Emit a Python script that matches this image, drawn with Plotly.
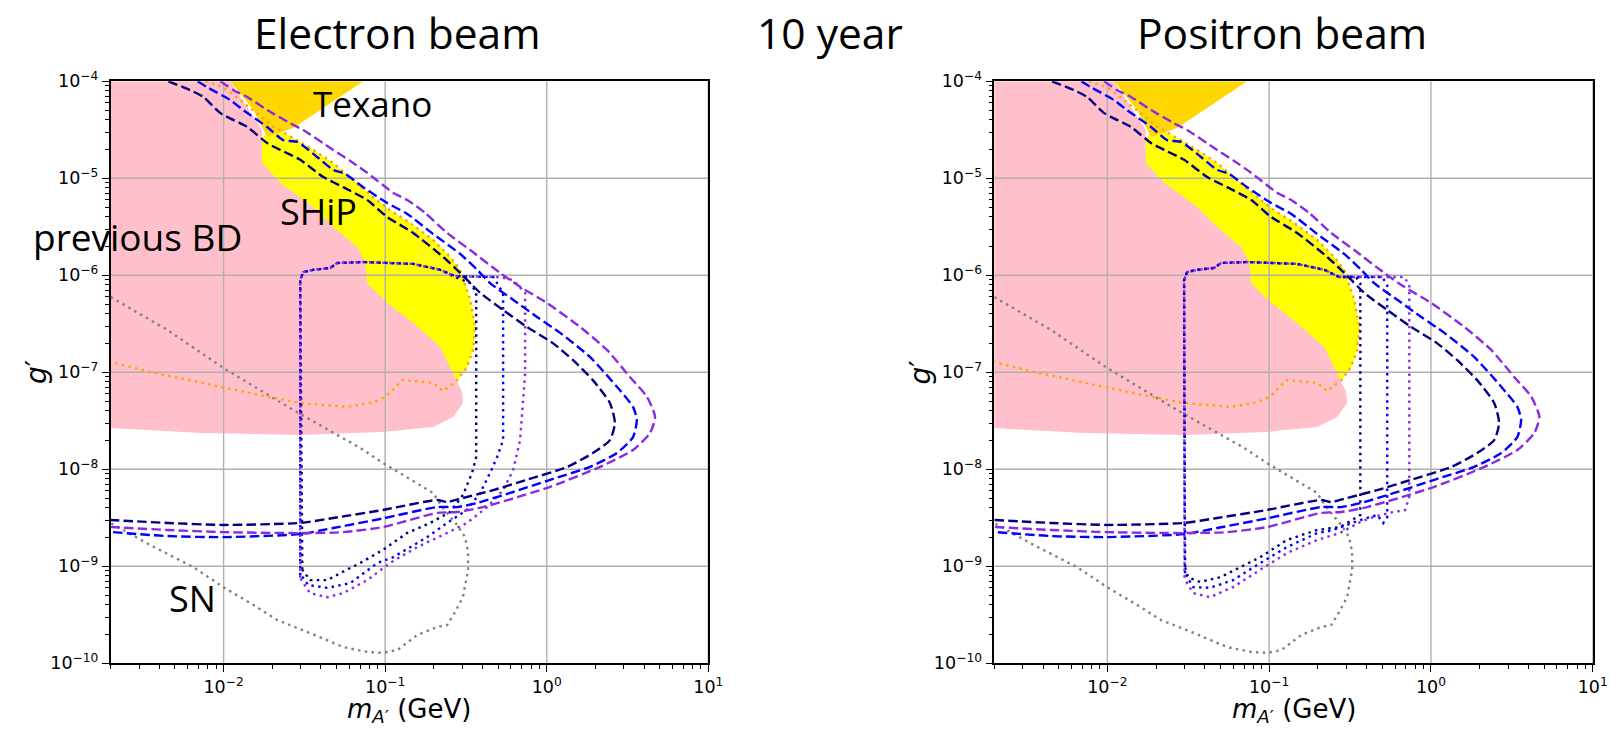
import math
import plotly.graph_objects as go

# ---------------- data: dark photon mass m_A' (GeV) vs coupling g' ----------------
# previous beam-dump exclusion (pink)
bd_m = [1.9e-3, 1.1e-2, 1.73e-2, 1.73e-2, 2.25e-2, 3.59e-2, 4.77e-2, 6.72e-2, 7.52e-2, 7.74e-2,
        0.103, 0.149, 0.219, 0.264, 0.299, 0.303, 0.264, 0.198, 0.097, 2.98e-2, 7.2e-3, 1.9e-3]
bd_g = [1.0e-4, 1.0e-4, 3.15e-5, 1.44e-5, 8.95e-6, 5.06e-6, 3.15e-6, 1.96e-6, 1.37e-6, 8.3e-7,
        5.2e-7, 3.23e-7, 1.82e-7, 9.8e-8, 6.3e-8, 4.83e-8, 3.46e-8, 2.73e-8, 2.43e-8, 2.26e-8, 2.37e-8, 2.67e-8]

# Texono (gold)
tex_m = [1.1e-2, 7.31e-2, 2.70e-2, 1.86e-2, 1.53e-2]
tex_g = [1.0e-4, 1.0e-4, 3.3e-5, 2.67e-5, 5.06e-5]

# SHiP projected reach (yellow area)
ship_m = [1.73e-2, 2.03e-2, 2.70e-2, 3.59e-2, 4.77e-2, 6.34e-2, 8.43e-2, 0.107, 0.143, 0.198, 0.252,
          0.291, 0.336, 0.361, 0.350, 0.321, 0.279, 0.219, 7.0e-2, 2.25e-2, 1.57e-2, 1.6e-2]
ship_g = [2.6e-5, 3.4e-5, 2.6e-5, 1.96e-5, 1.44e-5, 9.6e-6, 6.4e-6, 4.7e-6, 3.46e-6, 2.31e-6, 1.55e-6,
          1.14e-6, 5.6e-7, 2.94e-7, 1.70e-7, 1.13e-7, 8.3e-8, 1.34e-7, 8.9e-7, 5.97e-6, 1.37e-5, 2.6e-5]

# SHiP contour (orange dotted)
shipl_m = [7.7e-3, 9.95e-3, 1.27e-2, 1.61e-2, 2.03e-2, 2.70e-2, 3.59e-2, 4.77e-2, 6.34e-2, 8.43e-2,
           0.107, 0.143, 0.198, 0.252, 0.291, 0.336, 0.361, 0.350, 0.321, 0.279, 0.228, 0.198, 0.127,
           0.107, 9.7e-2, 8.43e-2, 5.82e-2, 2.98e-2, 1.86e-2, 9.5e-3, 3.5e-3, 2.0e-3]
shipl_g = [1.0e-4, 8.7e-5, 6.4e-5, 4.7e-5, 3.4e-5, 2.6e-5, 1.96e-5, 1.44e-5, 9.6e-6, 6.4e-6,
           4.7e-6, 3.46e-6, 2.31e-6, 1.55e-6, 1.14e-6, 5.6e-7, 2.94e-7, 1.70e-7, 1.13e-7, 8.3e-8, 6.4e-8,
           7.8e-8, 8.3e-8, 6.1e-8, 5.45e-8, 4.9e-8, 4.4e-8, 4.83e-8, 5.6e-8, 7.1e-8, 1.01e-7, 1.28e-7]

# supernova bound (grey dotted)
sn_m = [2.0e-3, 4.49e-3, 9.95e-3, 2.70e-2, 7.0e-2, 9.7e-2, 0.198, 0.228, 0.279, 0.312, 0.326, 0.326,
        0.303, 0.271, 0.242, 0.210, 0.158, 0.119, 9.7e-2, 7.74e-2, 5.5e-2, 3.43e-2, 2.15e-2, 1.53e-2,
        9.95e-3, 6.5e-3, 3.5e-3, 2.0e-3]
sn_g = [5.97e-7, 2.73e-7, 1.11e-7, 4.08e-8, 1.66e-8, 1.16e-8, 5.7e-9, 3.99e-9, 2.66e-9, 2.0e-9, 1.40e-9,
        9.2e-10, 4.8e-10, 3.38e-10, 2.48e-10, 2.37e-10, 1.96e-10, 1.37e-10, 1.28e-10, 1.31e-10, 1.47e-10,
        2.05e-10, 2.79e-10, 3.99e-10, 6.1e-10, 9.8e-10, 1.66e-9, 2.79e-9]

# dashed sensitivity contours (same for both beams)
dash_navy_m = [4.55e-3, 6.22e-3, 7.5e-3, 9.55e-3, 1.40e-2, 1.86e-2, 2.25e-2, 2.98e-2, 4.14e-2, 5.5e-2,
               7.74e-2, 0.103, 0.149, 0.228, 0.291, 0.387, 0.537, 0.755, 1.09, 1.45, 1.93, 2.46, 2.64,
               2.46, 1.93, 1.34, 0.755, 0.466, 0.303, 0.242, 0.210, 9.7e-2, 4.77e-2, 2.98e-2, 9.95e-3,
               4.49e-3, 2.0e-3]
dash_navy_g = [1.0e-4, 8.1e-5, 6.9e-5, 4.7e-5, 3.38e-5, 2.31e-5, 1.96e-5, 1.55e-5, 1.03e-5, 8.1e-6,
               5.97e-6, 3.99e-6, 2.73e-6, 1.55e-6, 1.06e-6, 6.6e-7, 4.39e-7, 2.93e-7, 2.0e-7, 1.34e-7,
               8.3e-8, 4.83e-8, 3.0e-8, 2.0e-8, 1.47e-8, 1.06e-8, 7.8e-9, 6.1e-9, 5.06e-9, 4.6e-9, 4.83e-9,
               3.81e-9, 3.15e-9, 2.8e-9, 2.67e-9, 2.8e-9, 3.0e-9]

dash_blue_m = [6.9e-3, 7.9e-3, 1.10e-2, 1.32e-2, 1.86e-2, 2.34e-2, 2.86e-2, 3.79e-2, 4.77e-2, 5.66e-2,
               7.31e-2, 0.103, 0.137, 0.198, 0.291, 0.371, 0.446, 0.619, 0.871, 1.21, 1.85, 2.72, 3.42,
               3.61, 3.42, 2.72, 1.85, 1.05, 0.593, 0.371, 0.279, 0.210, 9.7e-2, 4.77e-2, 2.98e-2,
               9.95e-3, 4.49e-3, 2.0e-3]
dash_blue_g = [1.0e-4, 8.7e-5, 6.4e-5, 5.06e-5, 3.38e-5, 2.48e-5, 2.37e-5, 1.66e-5, 1.22e-5, 1.11e-5,
               8.1e-6, 5.56e-6, 4.29e-6, 2.67e-6, 1.66e-6, 1.14e-6, 8.3e-7, 5.6e-7, 3.72e-7, 2.55e-7,
               1.44e-7, 7.1e-8, 4.4e-8, 3.23e-8, 2.15e-8, 1.47e-8, 1.06e-8, 7.8e-9, 5.7e-9, 4.5e-9, 4.08e-9,
               4.08e-9, 3.12e-9, 2.48e-9, 2.15e-9, 2.0e-9, 2.05e-9, 2.26e-9]

dash_violet_m = [9.55e-3, 1.15e-2, 1.40e-2, 1.86e-2, 2.58e-2, 3.11e-2, 4.77e-2, 6.08e-2, 7.74e-2, 0.112,
                 0.137, 0.177, 0.242, 0.336, 0.514, 0.684, 1.0, 1.61, 2.36, 3.27, 4.17, 4.68, 4.36, 3.42,
                 2.14, 1.05, 0.404, 0.279, 0.210, 9.7e-2, 5.5e-2, 2.98e-2, 9.95e-3, 4.49e-3, 2.0e-3]
dash_violet_g = [1.0e-4, 8.1e-5, 6.9e-5, 5.06e-5, 3.7e-5, 3.15e-5, 1.96e-5, 1.51e-5, 1.14e-5, 7.1e-6,
                 5.97e-6, 4.39e-6, 2.73e-6, 1.82e-6, 1.06e-6, 7.6e-7, 5.2e-7, 2.93e-7, 1.70e-7, 8.95e-8,
                 5.6e-8, 3.47e-8, 2.37e-8, 1.58e-8, 1.06e-8, 6.6e-9, 4.08e-9, 3.63e-9, 3.55e-9, 2.54e-9,
                 2.25e-9, 2.2e-9, 2.25e-9, 2.37e-9, 2.54e-9]

# dotted contours, electron beam
e_navy_m = [3.07e-2, 2.98e-2, 3.11e-2, 3.59e-2, 4.57e-2, 5.05e-2, 7.31e-2, 0.149, 0.219, 0.271, 0.336,
            0.366, 0.366, 0.345, 0.303, 0.252, 0.190, 0.137, 9.7e-2, 7.0e-2, 5.27e-2, 4.38e-2, 3.43e-2, 3.07e-2]
e_navy_g = [9.2e-10, 8.9e-7, 1.08e-6, 1.14e-6, 1.19e-6, 1.34e-6, 1.37e-6, 1.31e-6, 1.14e-6, 9.6e-7, 8.3e-7,
            6.7e-7, 1.34e-8, 9.2e-9, 5.43e-9, 3.63e-9, 2.8e-9, 2.21e-9, 1.48e-9, 1.08e-9, 8.5e-10, 7.2e-10,
            7.2e-10, 9.2e-10]
e_blue_m = [2.98e-2, 2.98e-2, 3.11e-2, 3.59e-2, 4.57e-2, 5.05e-2, 7.31e-2, 0.149, 0.219, 0.271, 0.466,
            0.537, 0.537, 0.493, 0.446, 0.387, 0.321, 0.242, 0.182, 0.112, 8.93e-2, 6.08e-2, 4.38e-2,
            3.34e-2, 3.07e-2, 2.98e-2]
e_blue_g = [8.1e-10, 8.9e-7, 1.08e-6, 1.14e-6, 1.19e-6, 1.34e-6, 1.37e-6, 1.31e-6, 1.14e-6, 9.8e-7, 9.6e-7,
            6.6e-7, 2.0e-8, 1.34e-8, 9.2e-9, 5.7e-9, 3.81e-9, 2.8e-9, 2.0e-9, 1.24e-9, 1.08e-9, 6.7e-10,
            6.0e-10, 6.4e-10, 7.8e-10, 8.1e-10]
e_violet_m = [2.98e-2, 2.98e-2, 3.11e-2, 3.59e-2, 4.57e-2, 5.05e-2, 7.31e-2, 0.149, 0.219, 0.271, 0.514,
              0.619, 0.735, 0.735, 0.684, 0.619, 0.537, 0.428, 0.321, 0.242, 0.158, 0.107, 7.74e-2, 5.5e-2,
              4.38e-2, 3.43e-2, 3.11e-2, 2.98e-2]
e_violet_g = [7.6e-10, 8.9e-7, 1.08e-6, 1.14e-6, 1.19e-6, 1.34e-6, 1.37e-6, 1.31e-6, 1.14e-6, 9.8e-7,
              9.6e-7, 8.9e-7, 6.6e-7, 9.8e-8, 2.0e-8, 9.8e-9, 6.1e-9, 4.08e-9, 2.8e-9, 2.21e-9, 1.58e-9,
              1.08e-9, 7.2e-10, 5.3e-10, 4.8e-10, 5.3e-10, 6.7e-10, 7.6e-10]

# dotted contours, positron beam
p_navy_m = [3.02e-2, 2.98e-2, 3.11e-2, 3.59e-2, 4.57e-2, 5.05e-2, 7.31e-2, 0.149, 0.219, 0.271, 0.345,
            0.366, 0.366, 0.275, 0.198, 0.129, 8.8e-2, 6.62e-2, 4.98e-2, 3.74e-2, 3.16e-2, 3.02e-2]
p_navy_g = [9.8e-10, 8.9e-7, 1.08e-6, 1.14e-6, 1.19e-6, 1.34e-6, 1.37e-6, 1.31e-6, 1.14e-6, 9.6e-7, 9.6e-7,
            8.3e-7, 3.38e-9, 2.54e-9, 2.37e-9, 1.87e-9, 1.24e-9, 9.8e-10, 7.7e-10, 6.9e-10, 7.7e-10, 9.8e-10]
p_blue_m = [3.02e-2, 2.98e-2, 3.11e-2, 3.59e-2, 4.57e-2, 5.05e-2, 7.31e-2, 0.149, 0.219, 0.271, 0.5,
            0.537, 0.537, 0.507, 0.466, 0.366, 0.249, 0.198, 0.129, 8.8e-2, 5.98e-2, 4.31e-2, 3.39e-2,
            3.11e-2, 3.02e-2]
p_blue_g = [8.5e-10, 8.9e-7, 1.08e-6, 1.14e-6, 1.19e-6, 1.34e-6, 1.37e-6, 1.31e-6, 1.14e-6, 9.6e-7, 9.6e-7,
            7.9e-7, 3.22e-9, 2.79e-9, 3.38e-9, 3.0e-9, 2.37e-9, 2.2e-9, 1.58e-9, 1.08e-9, 7.2e-10, 6.0e-10,
            6.1e-10, 7.7e-10, 8.5e-10]
p_violet_m = [3.0e-2, 2.98e-2, 3.11e-2, 3.59e-2, 4.57e-2, 5.05e-2, 7.31e-2, 0.149, 0.219, 0.271, 0.684,
              0.735, 0.735, 0.693, 0.585, 0.44, 0.366, 0.275, 0.198, 0.129, 8.8e-2, 5.98e-2, 4.31e-2,
              3.39e-2, 3.11e-2, 3.0e-2]
p_violet_g = [7.6e-10, 8.9e-7, 1.08e-6, 1.14e-6, 1.19e-6, 1.34e-6, 1.37e-6, 1.31e-6, 1.14e-6, 9.6e-7,
              9.6e-7, 7.9e-7, 5.2e-9, 3.8e-9, 3.63e-9, 3.22e-9, 2.86e-9, 2.21e-9, 1.87e-9, 1.37e-9, 9.2e-10,
              6.1e-10, 4.8e-10, 5.3e-10, 6.7e-10, 7.6e-10]

# axis setup
m_min, m_max = 2.0e-3, 10.0
g_min, g_max = 1e-10, 1e-4
x_tick_vals = [1e-2, 1e-1, 1e0, 1e1]
x_tick_text = ["10<sup>\u22122</sup>", "10<sup>\u22121</sup>", "10<sup>0</sup>", "10<sup>1</sup>"]
y_tick_vals = [1e-10, 1e-9, 1e-8, 1e-7, 1e-6, 1e-5, 1e-4]
y_tick_text = ["10<sup>\u2212%d</sup>" % k for k in (10, 9, 8, 7, 6, 5, 4)]

W, H = 1610, 730
panel_x = [(110.7, 708.3), (994.3, 1592.7)]
panel_top, panel_bottom = 81.3, 663.3

NAVY, BLUE, VIOLET = "#000080", "#0000ff", "#8a2be2"
DASH = "9.5px,4.2px"
DOT = "2.5px,4.3px"
LW = 2.4

fig = go.Figure()


def add_panel(idx, dotted):
    xa = "x" if idx == 0 else "x2"
    ya = "y" if idx == 0 else "y2"

    def fill(mx, gy, color):
        fig.add_trace(go.Scatter(x=mx, y=gy, xaxis=xa, yaxis=ya, mode="lines", fill="toself",
                                 fillcolor=color, line=dict(width=0, color=color),
                                 hoverinfo="skip", showlegend=False))

    def line(mx, gy, color, dash, shape="linear"):
        fig.add_trace(go.Scatter(x=mx, y=gy, xaxis=xa, yaxis=ya, mode="lines",
                                 line=dict(color=color, width=LW, dash=dash, shape=shape, smoothing=0.6),
                                 hoverinfo="skip", showlegend=False))

    fill(ship_m, ship_g, "#ffff00")
    fill(bd_m, bd_g, "#ffc0cb")
    fill(tex_m, tex_g, "#ffd700")

    # grid drawn above the filled regions, below the contours
    for k in range(-2, 2):
        fig.add_trace(go.Scatter(x=[10.0 ** k, 10.0 ** k], y=[g_min, g_max], xaxis=xa, yaxis=ya,
                                 mode="lines", line=dict(color="#b0b0b0", width=1.4),
                                 hoverinfo="skip", showlegend=False))
    for k in range(-9, -4):
        fig.add_trace(go.Scatter(x=[m_min, m_max], y=[10.0 ** k, 10.0 ** k], xaxis=xa, yaxis=ya,
                                 mode="lines", line=dict(color="#b0b0b0", width=1.4),
                                 hoverinfo="skip", showlegend=False))

    line(sn_m, sn_g, "#808080", DOT)
    line(shipl_m, shipl_g, "#ffa500", DOT)
    for (mx, gy), col in zip(dotted, (NAVY, BLUE, VIOLET)):
        line(mx, gy, col, DOT)
    line(dash_navy_m, dash_navy_g, NAVY, DASH, "spline")
    line(dash_blue_m, dash_blue_g, BLUE, DASH, "spline")
    line(dash_violet_m, dash_violet_g, VIOLET, DASH, "spline")


add_panel(0, [(e_navy_m, e_navy_g), (e_blue_m, e_blue_g), (e_violet_m, e_violet_g)])
add_panel(1, [(p_navy_m, p_navy_g), (p_blue_m, p_blue_g), (p_violet_m, p_violet_g)])


def minor_vals(lo, hi):
    return [j * 10.0 ** k for k in range(lo, hi) for j in range(2, 10)]


tick_font = dict(family="DejaVu Sans", size=17.5, color="black")


def xaxis_cfg(dom):
    return dict(type="log", domain=dom, range=[math.log10(m_min), math.log10(m_max)],
                showline=True, linecolor="black", linewidth=1.6, mirror=True, automargin=False,
                ticks="outside", ticklen=7, tickwidth=1.4, tickcolor="black",
                tickmode="array", tickvals=x_tick_vals, ticktext=x_tick_text,
                showgrid=False, zeroline=False, tickfont=tick_font, layer="above traces",
                minor=dict(ticks="outside", ticklen=4, tickwidth=1.0, tickcolor="black", showgrid=False,
                           tickmode="array", tickvals=minor_vals(-3, 1)))


def yaxis_cfg(anchor):
    return dict(type="log", domain=[1 - panel_bottom / H, 1 - panel_top / H], anchor=anchor,
                range=[math.log10(g_min), math.log10(g_max)],
                showline=True, linecolor="black", linewidth=1.6, mirror=True, automargin=False,
                ticks="outside", ticklen=7, tickwidth=1.4, tickcolor="black",
                tickmode="array", tickvals=y_tick_vals, ticktext=y_tick_text,
                showgrid=False, zeroline=False, tickfont=tick_font, layer="above traces",
                minor=dict(ticks="outside", ticklen=4, tickwidth=1.0, tickcolor="black", showgrid=False,
                           tickmode="array", tickvals=minor_vals(-10, -4)))


xa1 = xaxis_cfg([panel_x[0][0] / W, panel_x[0][1] / W])
xa1["anchor"] = "y"
xa2 = xaxis_cfg([panel_x[1][0] / W, panel_x[1][1] / W])
xa2["anchor"] = "y2"

annotations = []


def text(s, px, py, size, family="Open Sans", angle=0):
    annotations.append(dict(text=s, x=px / W, y=1 - py / H, xref="paper", yref="paper",
                            xanchor="center", yanchor="middle", showarrow=False, textangle=angle,
                            font=dict(family=family, size=size, color="black")))


text("Electron beam", 397, 33, 42.5)
text("10 year", 830, 33, 42.5)
text("Positron beam", 1282, 33, 42.5)
text("Texano", 372, 104, 35)
text("SHiP", 318, 212, 36)
text("previous BD", 137, 236, 37)
text("SN", 192, 598, 36)
for (x0, x1) in panel_x:
    text("<i>g</i>\u2032", x0 - 74, (panel_top + panel_bottom) / 2, 28, "DejaVu Sans", -90)
    text("<i>m</i><sub><i>A</i>\u2032</sub> (GeV)", (x0 + x1) / 2, 710, 26, "DejaVu Sans")

fig.update_layout(
    width=W, height=H, margin=dict(l=0, r=0, t=0, b=0, autoexpand=False),
    paper_bgcolor="white", plot_bgcolor="white",
    xaxis=xa1, yaxis=yaxis_cfg("x"), xaxis2=xa2, yaxis2=yaxis_cfg("x2"),
    annotations=annotations, showlegend=False,
)

fig.write_html("out.html")
